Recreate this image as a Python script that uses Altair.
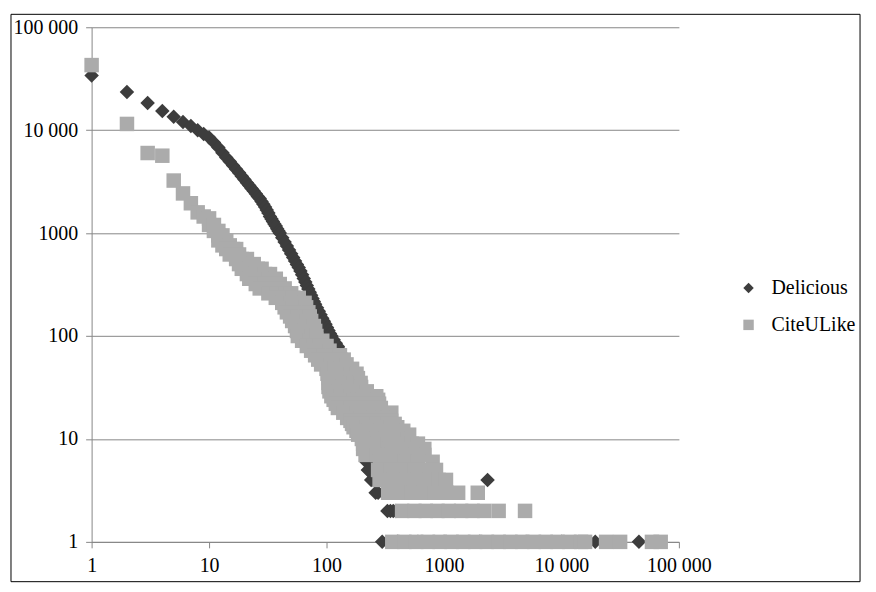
import altair as alt
import pandas as pd

# ---- Delicious (dark diamonds): x = frequency, y = number of tags ----
del_x = [1, 2, 3, 4, 5, 6, 7, 8, 9, 10, 11, 12, 13, 14, 15, 16, 17, 18, 19, 20,
         21, 22, 23, 24, 25, 26, 27, 28, 29, 30, 31, 32, 33, 34, 35, 36, 37, 38, 39, 40,
         42, 44, 46, 48, 50, 52, 54, 56, 58, 60, 62, 64, 66, 68, 70, 72, 74, 76, 78,
         80, 83, 86, 89, 92, 95, 98, 101, 104, 107, 110, 115, 120, 125, 130, 135, 140,
         145, 150, 155, 160, 165, 170, 175, 180, 185, 190, 195, 200, 205, 210, 213, 216,
         218, 222, 225, 228, 240, 250, 262, 275, 330, 350, 370, 390, 2350,
         298, 400, 600, 1000, 2000, 5000, 10000, 19400, 45700]
del_y = [34000, 23500, 18400, 15400, 13500, 12000, 11000, 10000, 9200, 8500,
         7580, 6770, 6050, 5430, 4950, 4540, 4170, 3850, 3570, 3320,
         3090, 2900, 2720, 2560, 2410, 2270, 2165, 2030, 1910, 1790,
         1680, 1570, 1450, 1370, 1296, 1227, 1169, 1105, 1051, 1000,
         903, 820, 748, 684, 629, 579, 536, 496, 462, 428, 393, 362, 334, 309, 287, 267,
         249, 232, 217, 204, 188, 174, 161, 149, 139, 130, 121, 113, 106, 100, 92, 85, 79,
         73, 66, 60, 53, 47, 41, 35, 30, 26, 22, 19, 16, 14, 12, 11, 10, 9, 8, 7,
         6, 6, 5, 5, 4, 4, 3, 3, 2, 2, 2, 2, 4,
         1, 1, 1, 1, 1, 1, 1, 1, 1]

# ---- CiteULike (light squares): number of tags -> list of frequencies ----
cul_levels = {
    42900: [1], 11500: [2], 6000: [3], 5650: [4], 3240: [5], 2430: [6], 1950: [7],
    1590: [8], 1450: [9], 1390: [10],
    1200: [10, 11], 1050: [11, 12], 950: [12, 13], 850: [12, 14], 760: [13, 15],
    700: [14, 16, 17], 620: [15, 17, 18], 560: [17, 19, 21], 500: [18, 21, 24],
    450: [19, 22, 26, 28], 400: [21, 25, 30, 33], 360: [22, 27, 32, 37],
    320: [25, 30, 36, 40], 290: [27, 33, 40, 44], 260: [32, 38, 45, 50],
    235: [37, 44, 52, 58], 210: [42, 50, 58, 65], 190: [44, 52, 60, 67],
    170: [46, 54, 62, 70], 155: [49, 57, 66, 72], 140: [51, 60, 68, 74],
    125: [54, 62, 70, 78], 112: [56, 65, 74, 80], 100: [57, 66, 75, 82],
    90: [62, 72, 82, 92], 80: [68, 78, 88, 100], 72: [74, 85, 97, 106],
    65: [80, 95, 112, 130], 59: [85, 100, 120, 140], 53: [90, 108, 128, 148],
    48: [100, 118, 140, 165], 43: [102, 118, 138, 160, 180], 39: [104, 120, 140, 165, 185],
    35: [104, 122, 145, 170, 195], 32: [104, 125, 150, 175, 197],
    29: [106, 128, 155, 185, 220], 26: [110, 132, 160, 190, 225, 265],
    24: [115, 140, 170, 205, 240, 275],
    22: [120, 155, 200, 240, 280],
    20: [125, 160, 205, 250, 290],
    18: [139, 180, 230, 290, 356],
    16: [150, 195, 250, 300, 340],
    15: [160, 205, 260, 320, 355],
    14: [165, 215, 270, 330, 380],
    13: [170, 220, 280, 350, 400],
    12: [180, 230, 290, 360, 450],
    11: [186, 240, 310, 400, 505],
    10: [200, 250, 320, 400, 495],
    9: [205, 260, 330, 420, 530, 600],
    8: [205, 260, 330, 420, 540, 680],
    7: [215, 270, 340, 430, 540, 680],
    6: [285, 360, 460, 600, 800],
    5: [275, 350, 440, 560, 700, 855],
    4: [283, 360, 450, 570, 720, 900, 1040],
    3: [335, 420, 530, 670, 840, 1050, 1320, 1940],
    2: [440, 560, 700, 880, 1100, 1400, 1750, 2200, 2920, 4900],
    1: [363, 460, 580, 730, 920, 1160, 1460, 1840, 2320, 2920, 3680, 4640, 5840, 7360,
        9270, 11700, 14700, 15900, 24000, 31600, 59000, 70000],
}

series = ["Delicious", "CiteULike"]
axis_values = [1, 10, 100, 1000, 10000, 100000]

rows = []
for x, y in zip(del_x, del_y):
    rows.append({"x": x, "y": y, "series": "Delicious", "o": 0})
for y, xs in cul_levels.items():
    for x in xs:
        rows.append({"x": x, "y": y, "series": "CiteULike", "o": 1})
df = pd.DataFrame(rows)

FONT = "Liberation Serif"
label_expr = ("datum.value >= 10000 ? replace(format(datum.value, ','), ',', ' ') "
              ": format(datum.value, 'd')")

legend = alt.Legend(title=None, orient="none", legendX=650, legendY=252,
                    symbolSize=110, labelOffset=13, rowPadding=17, padding=0)

points = alt.Chart(df).mark_point(filled=True, size=212, opacity=1).encode(
    x=alt.X("x:Q",
            scale=alt.Scale(type="log", domain=[1, 100000], nice=False),
            axis=alt.Axis(values=axis_values, title=None, grid=False, labelExpr=label_expr,
                          labelFlush=False, tickSize=6, labelPadding=8)),
    y=alt.Y("y:Q",
            scale=alt.Scale(type="log", domain=[1, 100000], nice=False),
            axis=alt.Axis(values=axis_values, title=None, grid=True, labelExpr=label_expr,
                          tickSize=6, labelPadding=8)),
    color=alt.Color("series:N",
                    scale=alt.Scale(domain=series, range=["#3d3d3d", "#ababab"]),
                    legend=legend),
    shape=alt.Shape("series:N",
                    scale=alt.Scale(domain=series, range=["diamond", "square"]),
                    legend=legend),
    order=alt.Order("o:Q"),
)

border = alt.Chart(pd.DataFrame({"a": [0]})).mark_rect(
    fill="transparent", stroke="black", strokeWidth=1
).encode(
    x=alt.value(-81), x2=alt.value(772), y=alt.value(-13), y2=alt.value(557)
)

chart = alt.layer(points, border).properties(
    width=590, height=517,
    autosize=alt.AutoSizeParams(type="none"),
    padding={"left": 84, "top": 18, "right": 190, "bottom": 45},
).configure_view(stroke=None).configure_axis(
    domainColor="#868686", tickColor="#868686", gridColor="#868686",
    labelFont=FONT, labelFontSize=20, labelColor="black",
).configure_legend(
    labelFont=FONT, labelFontSize=20, labelColor="black",
)

chart.save("out.html", embed_options={"renderer": "svg", "actions": False})
